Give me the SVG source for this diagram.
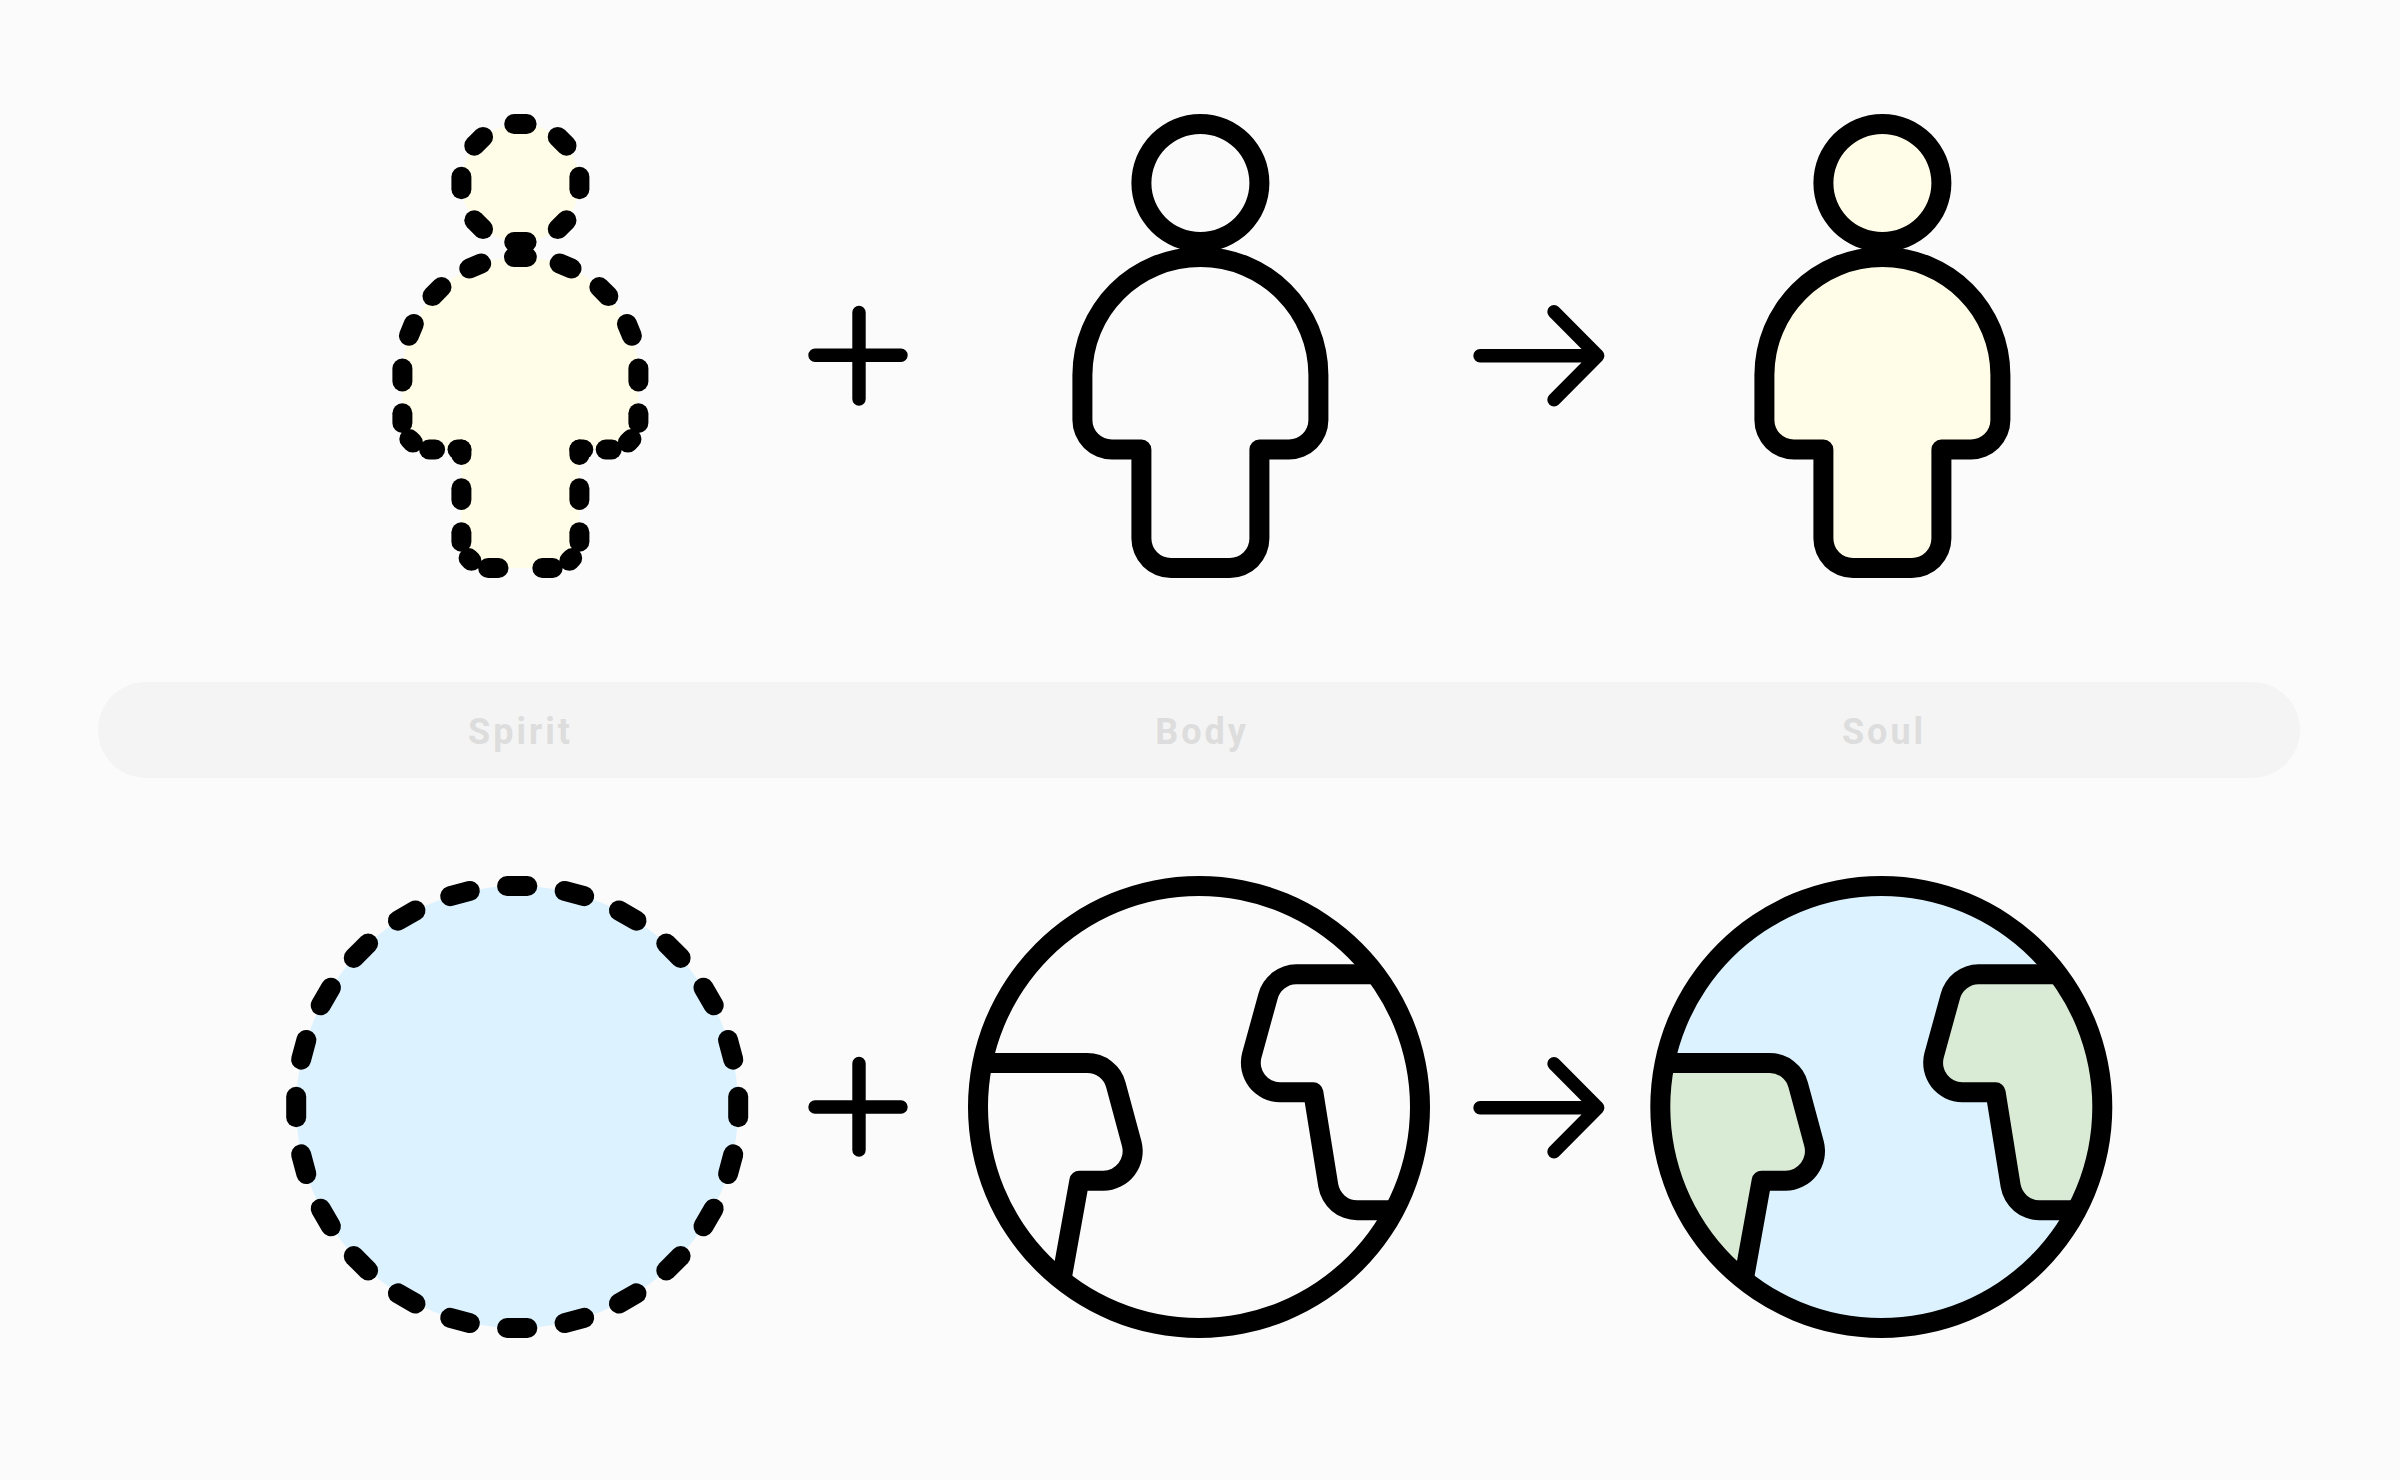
<svg xmlns="http://www.w3.org/2000/svg" width="2400" height="1480" viewBox="0 0 2400 1480">
<style>
.op{fill:none;stroke:#000;stroke-width:13.4;stroke-linecap:round;stroke-linejoin:round}
.ink{fill:#000;fill-rule:evenodd}
.dash{fill:#000}
.cream{fill:#FFFDE7}
.sky{fill:#DCF2FF}
.land{fill:#DAEBD5}
.lbl{font-family:Roboto,"Liberation Sans",sans-serif;font-weight:700;font-size:36px;letter-spacing:3px;fill:#DDDDDD;text-anchor:middle}
</style>
<defs>
<path id="torso" d="M402.4 375A118 118 0 0 1 638.4 375V420A29.5 29.5 0 0 1 608.9 449.5H579.4V538.5A29.5 29.5 0 0 1 549.9 568H490.9A29.5 29.5 0 0 1 461.4 538.5V449.5H431.9A29.5 29.5 0 0 1 402.4 420Z"/>
<path id="headInk" d="M-69 183A69 69 0 1 1 69 183A69 69 0 1 1 -69 183ZM-49 183A49 49 0 1 0 49 183A49 49 0 1 0 -49 183Z"/>
<path id="torsoInk" d="M-128 375A128 128 0 0 1 128 375V420A39.5 39.5 0 0 1 88.5 459.5H69V538.5A39.5 39.5 0 0 1 29.5 578H-29.5A39.5 39.5 0 0 1 -69 538.5V459.5H-88.5A39.5 39.5 0 0 1 -128 420ZM-108 375A108 108 0 0 1 108 375V420A19.5 19.5 0 0 1 88.5 439.5H59A10 10 0 0 0 49 449.5V538.5A19.5 19.5 0 0 1 29.5 558H-29.5A19.5 19.5 0 0 1 -49 538.5V449.5A10 10 0 0 0 -59 439.5H-88.5A19.5 19.5 0 0 1 -108 420Z"/>
<rect id="hd" x="49" y="-16.2" width="20" height="32.4" rx="10"/>
<rect id="ad" x="-16.4" y="-128" width="32.8" height="20" rx="10"/>
<rect id="rd" x="211" y="-20.15" width="20" height="40.3" rx="10"/>
<g id="halfdash">
<use href="#ad" transform="translate(520.4 375) rotate(22.5)"/>
<use href="#ad" transform="translate(520.4 375) rotate(45)"/>
<use href="#ad" transform="translate(520.4 375) rotate(67.5)"/>
<use href="#ad" transform="translate(520.4 375) rotate(90)"/>
<rect x="628.4" y="403.3" width="20" height="29.7" rx="10"/>
<rect x="-12.5" y="-10" width="25" height="20" rx="10" transform="translate(629.7 440.8) rotate(-45)"/>
<rect x="595.7" y="439.5" width="26" height="20" rx="10"/>
<rect x="569.4" y="439.5" width="23.9" height="20" rx="10"/>
<rect x="569.4" y="439.5" width="20" height="25.5" rx="10"/>
<rect x="569.4" y="478.3" width="20" height="31.7" rx="10"/>
<rect x="569.4" y="522.3" width="20" height="29.4" rx="10"/>
<rect x="-12" y="-10" width="24" height="20" rx="10" transform="translate(570.8 559.4) rotate(-45)"/>
<rect x="532.3" y="558" width="30.4" height="20" rx="10"/>
</g>
<path id="landfillL" d="M982.4 1063H1087.3A29.5 29.5 0 0 1 1115.9 1085L1131.7 1143.7A29.5 29.5 0 0 1 1103.3 1180.7H1079.3L1062 1276.7A221 221 0 0 1 982.4 1063Z"/>
<path id="landfillR" d="M1375.7 974.3H1296.2A29.5 29.5 0 0 0 1268 996.3L1251.7 1055.7A29.5 29.5 0 0 0 1280 1092.3H1313.3L1328.3 1185.7A29.5 29.5 0 0 0 1357.2 1210.3H1394.4A221 221 0 0 0 1375.7 974.3Z"/>
<path id="ring" d="M968 1107A231 231 0 1 1 1430 1107A231 231 0 1 1 968 1107ZM988 1107A211 211 0 1 0 1410 1107A211 211 0 1 0 988 1107Z"/>
<path id="coastL" d="M981 1053H1087.3A39.5 39.5 0 0 1 1125.6 1082.4L1141.4 1141.1A39.5 39.5 0 0 1 1103.3 1190.7H1087.6L1071.8 1278.5L1052.2 1274.9L1069.5 1178.9A10 10 0 0 1 1079.3 1170.7H1103.3A19.5 19.5 0 0 0 1122 1146.3L1106.2 1087.6A19.5 19.5 0 0 0 1087.3 1073H981Z"/>
<path id="coastR" d="M1375 964.3H1296.2A39.5 39.5 0 0 0 1258.4 993.7L1242.1 1053.1A39.5 39.5 0 0 0 1280 1102.3H1304.7L1318.4 1187.3A39.5 39.5 0 0 0 1357.2 1220.3H1392V1200.3H1357.2A19.5 19.5 0 0 1 1338.2 1184.1L1323.2 1090.7A10 10 0 0 0 1313.3 1082.3H1280A19.5 19.5 0 0 1 1261.3 1058.3L1277.6 998.9A19.5 19.5 0 0 1 1296.2 984.3H1375Z"/>
</defs>
<rect width="2400" height="1480" fill="#FBFBFB"/>
<g id="band">
<rect x="98" y="682" width="2202" height="96" rx="48" ry="48" fill="#F4F4F4"/>
<text class="lbl" x="520.5" y="743.5">Spirit</text>
<text class="lbl" x="1202" y="743.5">Body</text>
<text class="lbl" x="1884" y="743.5">Soul</text>
</g>
<g id="spirit-person">
<circle class="cream" cx="520.4" cy="183" r="59"/>
<use href="#torso" class="cream"/>
<g class="dash" transform="translate(520.4 183)">
<use href="#hd"/>
<use href="#hd" transform="rotate(45)"/>
<use href="#hd" transform="rotate(90)"/>
<use href="#hd" transform="rotate(135)"/>
<use href="#hd" transform="rotate(180)"/>
<use href="#hd" transform="rotate(225)"/>
<use href="#hd" transform="rotate(270)"/>
<use href="#hd" transform="rotate(315)"/>
</g>
<g class="dash">
<use href="#ad" transform="translate(520.4 375)"/>
<use href="#halfdash"/>
<use href="#halfdash" transform="translate(1040.8 0) scale(-1 1)"/>
</g>
</g>
<g id="body-person" transform="translate(1200.4 0)">
<use href="#headInk" class="ink"/>
<use href="#torsoInk" class="ink"/>
</g>
<g id="soul-person">
<circle class="cream" cx="1882.4" cy="183" r="59"/>
<use href="#torso" class="cream" transform="translate(1362 0)"/>
<g transform="translate(1882.4 0)">
<use href="#headInk" class="ink"/>
<use href="#torsoInk" class="ink"/>
</g>
</g>
<g id="spirit-earth">
<circle class="sky" cx="517.2" cy="1107" r="221"/>
<g class="dash" transform="translate(517.2 1107)">
<use href="#rd"/>
<use href="#rd" transform="rotate(15)"/>
<use href="#rd" transform="rotate(30)"/>
<use href="#rd" transform="rotate(45)"/>
<use href="#rd" transform="rotate(60)"/>
<use href="#rd" transform="rotate(75)"/>
<use href="#rd" transform="rotate(90)"/>
<use href="#rd" transform="rotate(105)"/>
<use href="#rd" transform="rotate(120)"/>
<use href="#rd" transform="rotate(135)"/>
<use href="#rd" transform="rotate(150)"/>
<use href="#rd" transform="rotate(165)"/>
<use href="#rd" transform="rotate(180)"/>
<use href="#rd" transform="rotate(195)"/>
<use href="#rd" transform="rotate(210)"/>
<use href="#rd" transform="rotate(225)"/>
<use href="#rd" transform="rotate(240)"/>
<use href="#rd" transform="rotate(255)"/>
<use href="#rd" transform="rotate(270)"/>
<use href="#rd" transform="rotate(285)"/>
<use href="#rd" transform="rotate(300)"/>
<use href="#rd" transform="rotate(315)"/>
<use href="#rd" transform="rotate(330)"/>
<use href="#rd" transform="rotate(345)"/>
</g>
</g>
<g id="body-earth">
<use href="#ring" class="ink"/>
<use href="#coastL" class="dash"/>
<use href="#coastR" class="dash"/>
</g>
<g id="soul-earth" transform="translate(682.3 0)">
<circle class="sky" cx="1199" cy="1107" r="221"/>
<use href="#landfillL" class="land"/>
<use href="#landfillR" class="land"/>
<use href="#coastL" class="dash"/>
<use href="#coastR" class="dash"/>
<use href="#ring" class="ink"/>
</g>
<g id="connectors">
<path class="op" d="M815 355.3H901M859 312.5V399"/>
<path class="op" d="M1480 355.7H1597.7M1554 311.7L1597.7 355.7L1554 399.7"/>
<path class="op" d="M815 1107H901M859 1063.5V1150"/>
<path class="op" d="M1480 1107.7H1597.7M1554 1063.7L1597.7 1107.7L1554 1151.7"/>
</g>
</svg>
